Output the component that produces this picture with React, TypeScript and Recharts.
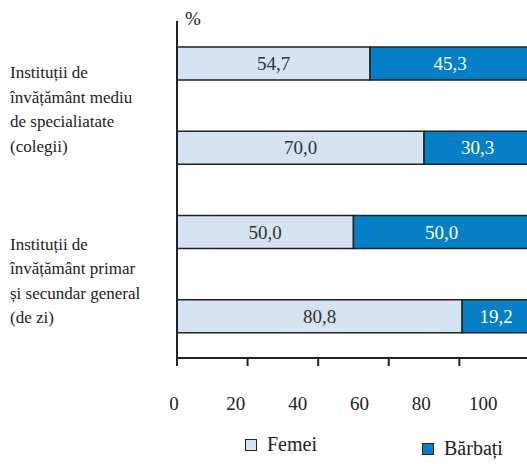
import React from 'react';
import { BarChart, Bar, XAxis, YAxis, LabelList } from 'recharts';

const rows = ['colegii-a', 'colegii-b', 'general-a', 'general-b'];
const femei = [54.7, 70.0, 50.0, 80.8];
const barbati = [45.3, 30.3, 50.0, 19.2];
const xTicks = [0, 20, 40, 60, 80, 100];
// eticheta grupului stă pe primul rând din fiecare pereche
const groupLabels: Record<number, string[]> = {
  0: ['Instituții de', 'învățământ mediu', 'de specialiatate', '(colegii)'],
  2: ['Instituții de', 'învățământ primar', 'și secundar general', '(de zi)'],
};
const seriesNames = ['Femei', 'Bărbați'];

const LIGHT = '#d5e3f3';
const BLUE = '#0580c6';
const INK = '#222';
const FONT = 'Liberation Serif';

const W = 540;
const H = 464;
const TOP = 21;
const X_AXIS_H = 106;
const PLOT_LEFT = 177;
const HALF_BAND = (H - TOP - X_AXIS_H) / rows.length / 2;

const data = rows.map((name, i) => ({ name, femei: femei[i], barbati: barbati[i] }));

const fmt = (v: any) => Number(v).toFixed(1).replace('.', ',');

// etichetele axei X sunt mai strânse decât gradațiile, ca în original
const XTick = (props: any) => {
  const { x, y, payload } = props;
  const lx = PLOT_LEFT - 3 + (x - PLOT_LEFT) * 0.876;
  return (
    <text x={lx} y={y + 35} textAnchor="middle" dominantBaseline="central"
      fontFamily={FONT} fontSize={19} fill={INK}>
      {payload.value}
    </text>
  );
};

const GroupTick = (props: any) => {
  const { y, index } = props;
  const lines = groupLabels[index];
  if (!lines) return null;
  const cy = y + HALF_BAND + (index === 0 ? 4 : 7);
  return (
    <g>
      {lines.map((t, i) => (
        <text key={i} x={10} y={cy + (i - 1.5) * 24.5} dominantBaseline="central"
          fontFamily={FONT} fontSize={17} fill={INK}>
          {t}
        </text>
      ))}
    </g>
  );
};

const LegendItem = ({ color, label, left, top }: any) => (
  <div style={{ position: 'absolute', left, top, display: 'flex', alignItems: 'center',
    fontFamily: FONT, fontSize: 20, color: INK }}>
    <span style={{ display: 'inline-block', width: 10, height: 10, background: color,
      border: `1.5px solid ${INK}`, marginRight: 10 }} />
    <span>{label}</span>
  </div>
);

export default function App() {
  return (
    <div style={{ position: 'absolute', left: 0, top: 0, width: 527, height: 464,
      overflow: 'hidden', background: '#fff' }}>
      <BarChart width={W} height={H} data={data} layout="vertical"
        margin={{ top: TOP, right: 9, bottom: 0, left: 0 }} barSize={33}>
        <XAxis type="number" domain={[0, 100]} ticks={xTicks} height={X_AXIS_H}
          axisLine={{ stroke: INK, strokeWidth: 2 }} tickLine={{ stroke: INK, strokeWidth: 2 }}
          tickSize={8} tick={<XTick />} interval={0} />
        <YAxis type="category" dataKey="name" width={PLOT_LEFT} interval={0}
          axisLine={{ stroke: INK, strokeWidth: 2 }} tickLine={false} tick={<GroupTick />} />
        <Bar dataKey="femei" name={seriesNames[0]} stackId="s" fill={LIGHT}
          stroke={INK} strokeWidth={1.5} isAnimationActive={false}>
          <LabelList dataKey="femei" position="center" formatter={fmt}
            style={{ fontFamily: FONT, fontSize: 19, fill: '#333' }} />
        </Bar>
        <Bar dataKey="barbati" name={seriesNames[1]} stackId="s" fill={BLUE}
          stroke={INK} strokeWidth={1.5} isAnimationActive={false}>
          <LabelList dataKey="barbati" position="center" formatter={fmt}
            style={{ fontFamily: FONT, fontSize: 19, fill: '#fff' }} />
        </Bar>
      </BarChart>
      <div style={{ position: 'absolute', left: 185, top: 8, fontFamily: FONT, fontSize: 19,
        color: INK }}>%</div>
      <LegendItem color={LIGHT} label={seriesNames[0]} left={245} top={433} />
      <LegendItem color={BLUE} label={seriesNames[1]} left={422} top={437} />
    </div>
  );
}
